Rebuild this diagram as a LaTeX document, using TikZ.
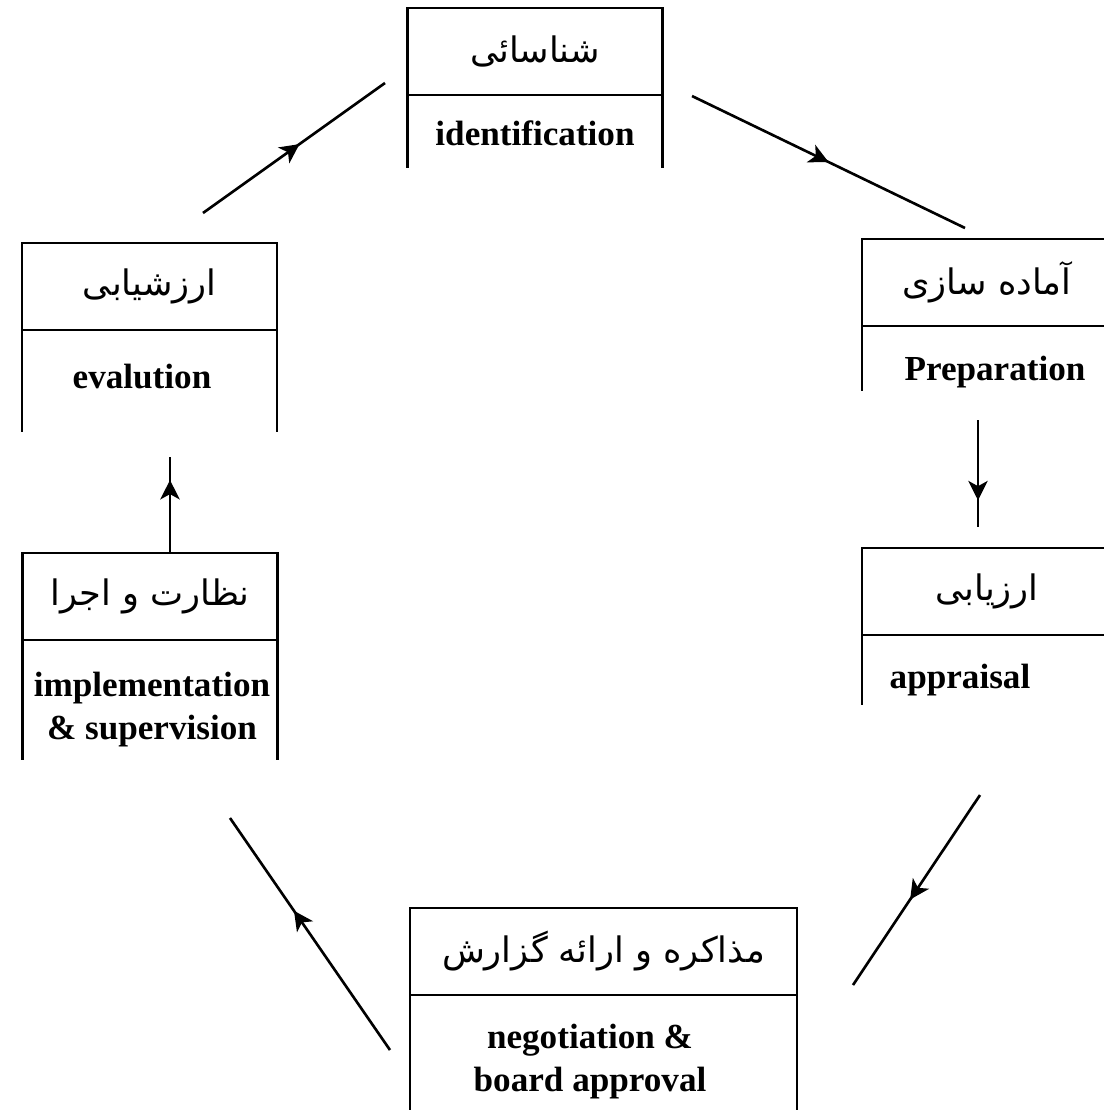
\documentclass[tikz,border=0pt]{standalone}
\usepackage{fontspec}
\setmainfont{Liberation Serif}
\newfontfamily\farsifont[Script=Arabic]{DejaVu Sans}
\TeXXeTstate=1
\usetikzlibrary{arrows.meta,decorations.markings,positioning}

\tikzset{
  titlebox/.style={draw, line width=1.6pt, minimum width=5.1cm, minimum height=1.74cm,
    inner sep=0pt, outer sep=0pt, font=\farsifont\fontsize{20}{24}\selectfont},
  side/.style={line width=1.6pt},
  entext/.style={font=\bfseries\fontsize{20}{24.5}\selectfont, align=center, inner sep=0pt},
  flow/.style={line width=1.5pt, postaction={decorate},
    decoration={markings, mark=at position #1 with {\arrow{Stealth[length=11pt,width=11pt,inset=3pt]}}}}
}

\begin{document}
\begin{tikzpicture}[x=0.02cm,y=-0.02cm]
\useasboundingbox (0,0) rectangle (1104,1110);

% title boxes
\node[titlebox] (ident) at (535,51.5) {\beginR شناسائی\endR};
\node[titlebox, minimum width=5cm] (prep) at (987,282.5) {\beginR آماده سازی\endR};
\node[titlebox, minimum width=5cm] (appr) at (987,591.5) {\beginR ارزیابی\endR};
\node[titlebox, minimum width=7.74cm] (nego) at (603.5,951.5) {\beginR مذاکره و ارائه گزارش\endR};
\node[titlebox] (impl) at (150,596.5) {\beginR نظارت و اجرا\endR};
\node[titlebox] (eval) at (149.5,286.5) {\beginR ارزشیابی\endR};

% open lower parts
\draw[side] (ident.south west) -- ++(0,73) (ident.south east) -- ++(0,73);
\draw[side] (prep.south west) -- ++(0,65) (prep.south east) -- ++(0,65);
\draw[side] (appr.south west) -- ++(0,70) (appr.south east) -- ++(0,70);
\draw[side] (nego.south west) -- ++(0,120) (nego.south east) -- ++(0,120);
\draw[side] (impl.south west) -- ++(0,120) (impl.south east) -- ++(0,120);
\draw[side] (eval.south west) -- ++(0,102) (eval.south east) -- ++(0,102);

% english names
\node[entext] (identtxt) at (535,133) {identification};
\node[entext] (preptxt) at (995,372) {Preparation};
\node[entext] (apprtxt) at (960,680) {appraisal};
\node[entext] (negotxt) at (590,1062) {negotiation \&\\board approval};
\node[entext] (impltxt) at (152,710) {implementation\\\& supervision};
\node[entext] (evaltxt) at (142,377) {evalution};

% arrow ends
\coordinate (fromEval) at (203,213);
\coordinate (toIdent) at (385,83);
\coordinate (fromIdent) at (692,96);
\coordinate (toPrep) at (965,228);
\coordinate (fromPrep) at (978,420);
\coordinate (toAppr) at (978,527);
\coordinate (fromAppr) at (980,795);
\coordinate (toNego) at (853,985);
\coordinate (fromNego) at (390,1050);
\coordinate (toImpl) at (230,818);
\coordinate (fromImpl) at (170,553);
\coordinate (toEval) at (170,457);

\draw[flow=0.53] (fromEval) -- (toIdent);
\draw[flow=0.5] (fromIdent) -- (toPrep);
\draw[flow=0.75] (fromPrep) -- (toAppr);
\draw[flow=0.55] (fromAppr) -- (toNego);
\draw[flow=0.6] (fromNego) -- (toImpl);
\draw[flow=0.76] (fromImpl) -- (toEval);
\end{tikzpicture}
\end{document}
